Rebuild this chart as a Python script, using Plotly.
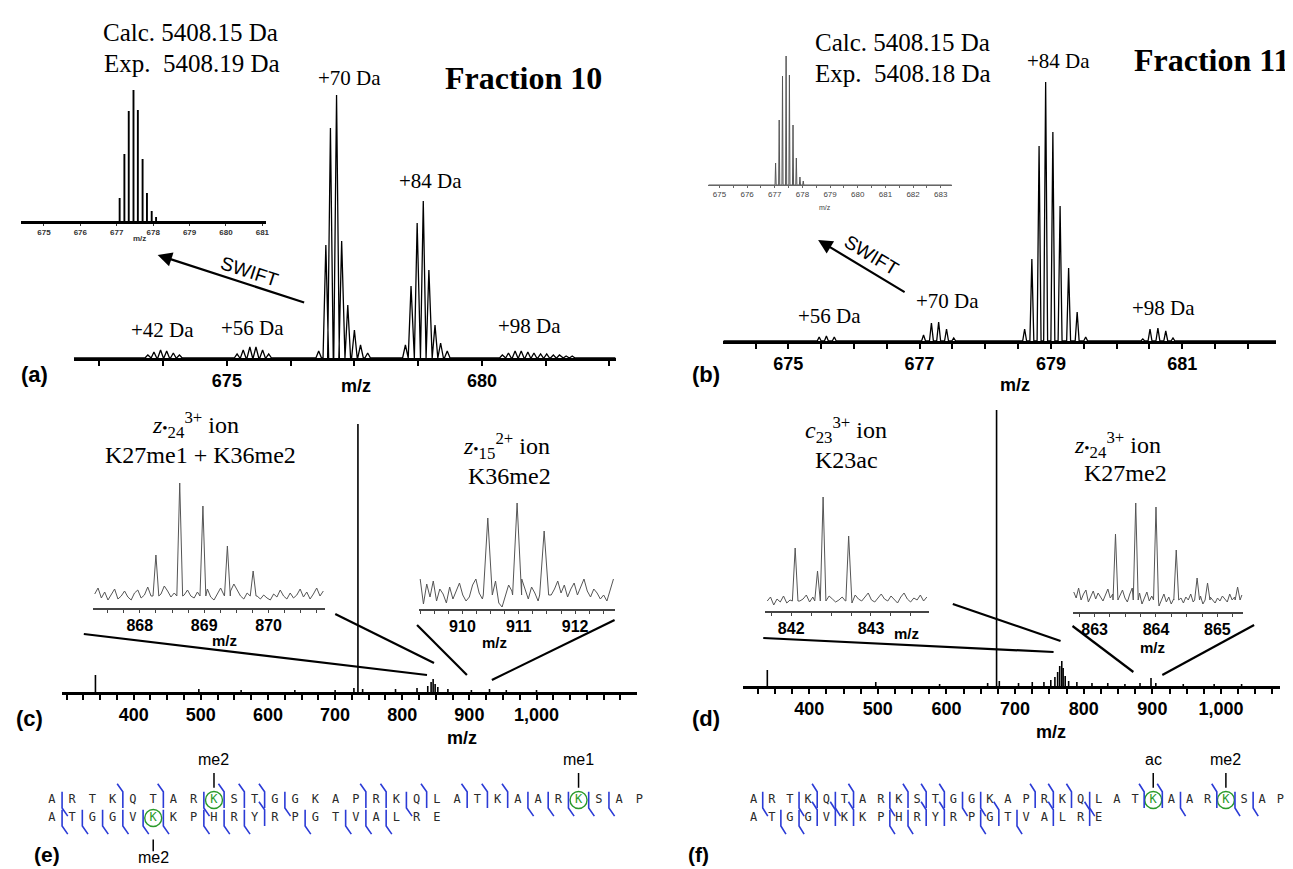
import numpy as np
import plotly.graph_objects as go

W, H = 1293, 869
SERIF = "Liberation Serif, Times New Roman, serif"
SANS = "Liberation Sans, Arial, sans-serif"

# ======================= DATA =======================
# (a) Fraction 10 - isolated region, peaks (m/z, relative intensity)
a42_mz = [673.45, 673.57, 673.70, 673.82, 673.95, 674.07]
a42_int = [3, 6, 8, 7, 5, 3]
a56_mz = [675.20, 675.32, 675.45, 675.57, 675.70, 675.82]
a56_int = [4, 8, 11, 11, 8, 4]
a70_mz = [676.80, 676.94, 677.03, 677.15, 677.25, 677.37, 677.50, 677.62, 677.76]
a70_int = [7, 113, 230, 263, 117, 53, 28, 13, 5]
a84_mz = [678.50, 678.61, 678.73, 678.85, 678.96, 679.08, 679.19, 679.32]
a84_int = [13, 72, 135, 157, 88, 33, 15, 7]
a98_mz = [680.40, 680.52, 680.65, 680.77, 680.90, 681.02, 681.15, 681.27, 681.40, 681.52, 681.65, 681.77]
a98_int = [3, 5, 7, 7, 6, 5, 4, 4, 3, 3, 2, 2]
# (a) inset after SWIFT
ai_mz = [677.08, 677.21, 677.33, 677.46, 677.58, 677.71, 677.83, 677.96, 678.08]
ai_int = [23, 67, 110, 131, 111, 62, 28, 10, 4]

# (b) Fraction 11
b56_mz = [675.47, 675.58, 675.70]
b56_int = [4, 5, 4]
b70_mz = [677.06, 677.18, 677.29, 677.41, 677.52]
b70_int = [6, 18, 19, 12, 3]
b84_mz = [678.60, 678.71, 678.82, 678.92, 679.03, 679.14, 679.27, 679.40, 679.53]
b84_int = [12, 82, 195, 259, 209, 135, 73, 29, 4]
b98_mz = [680.40, 680.51, 680.63, 680.75, 680.86]
b98_int = [2, 12, 13, 10, 3]
bi_mz = [677.03, 677.16, 677.28, 677.41, 677.53, 677.66, 677.78, 677.91, 678.03]
bi_int = [22, 65, 109, 129, 110, 60, 27, 8, 4]

# (c) ETD spectrum, Fraction 10
c_mz = [343, 497, 560, 640, 700, 728, 734, 741, 790, 822, 838, 843, 846, 849, 853, 868, 903, 930, 955, 1000]
c_int = [17, 3, 2, 2, 2, 4, 268, 3, 3, 4, 6, 10, 13, 8, 5, 3, 2, 3, 2, 2]
# (d) ETD spectrum, Fraction 11
d_mz = [339, 497, 590, 660, 673, 677, 705, 725, 742, 752, 758, 762, 765, 768, 770, 773, 778,
        790, 812, 835, 860, 882, 898, 905, 945, 990, 1030]
d_int = [16, 4, 2, 3, 276, 5, 3, 4, 4, 6, 9, 14, 20, 25, 18, 10, 5,
         4, 3, 3, 2, 3, 8, 3, 2, 2, 2]

# zoomed fragment-ion insets (peaks + baseline noise)
c1_mz = [868.25, 868.62, 868.98, 869.36, 869.76]
c1_int = [53, 125, 102, 62, 37]
c1_noise = [14, 20, 10, 16, 8, 13, 19, 9, 12, 17, 11, 8, 15, 18, 10, 13, 21, 12, 16, 9,
            14, 22, 17, 11, 15, 24, 19, 13, 18, 12, 10, 16, 22, 14, 19, 11, 8, 14, 20, 13,
            10, 17, 24, 18, 12, 9, 15, 11, 7, 12, 9, 13, 10, 8, 14, 11, 18, 12, 9, 15,
            10, 13, 19, 11, 16, 9, 14, 20, 12, 17]
c2_mz = [910.45, 910.97, 911.45]
c2_int = [91, 106, 78]
c2_noise = [30, 5, 25, 12, 28, 8, 20, 15, 6, 22, 10, 18, 26, 14, 8, 12, 24, 30, 16, 10,
            4, 14, 20, 28, 6, 2, 12, 24, 18, 26, 14, 30, 20, 10, 22, 16, 8, 12, 18, 25,
            14, 20, 28, 16, 24, 12, 20, 26, 14, 22, 30, 18, 12, 20, 16, 10, 14, 8, 18, 30]
d1_mz = [842.05, 842.33, 842.40, 842.72]
d1_int = [63, 40, 114, 75]
d1_noise = [10, 14, 6, 12, 9, 15, 8, 11, 13, 7, 10, 12, 16, 9, 14, 11, 8, 13, 10, 15,
            12, 9, 11, 14, 10, 13, 8, 16, 12, 10, 14, 18, 11, 9, 13, 17, 12, 10, 15, 11,
            8, 14, 18, 12, 9, 13, 11, 16, 10, 14]
d2_mz = [863.34, 863.67, 864.00, 864.33, 864.67, 864.84, 865.33]
d2_int = [78, 109, 105, 62, 34, 29, 25]
d2_noise = [20, 14, 24, 12, 18, 22, 10, 16, 21, 13, 19, 15, 11, 17, 23, 14, 18, 12, 20, 16,
            22, 14, 10, 18, 24, 15, 12, 19, 8, 14, 20, 11, 16, 9, 13, 6, 12, 18, 10, 15,
            8, 13, 17, 11, 14, 9, 15, 12, 18, 10, 14, 11, 16, 8, 13, 10, 15, 12, 9, 14,
            11, 16, 13, 10, 18, 12, 15, 20, 13, 17]

# (e)/(f) histone H3 1-50 sequence maps
sequence = "ARTKQTARKSTGGKAPRKQLATKAARKSAPATGGVKKPHRYRPGTVALRE"
e_mod_pos = [8, 26, 35]
e_mod_lbl = ["me2", "me1", "me2"]
f_mod_pos = [22, 26]
f_mod_lbl = ["ac", "me2"]
e_cut_pos = [0, 3, 5, 7, 8, 9, 10, 11, 15, 16, 17, 18, 20, 21, 22, 23, 24, 25, 26, 27,
             30, 31, 32, 33, 34, 35, 37, 38, 39, 40, 42, 44, 45, 46]
e_cut_typ = ["b", "t", "t", "b", "t", "t", "t", "b", "t", "t", "b", "t", "t", "t", "t", "b", "b", "b", "b", "b",
             "b", "b", "b", "b", "b", "b", "b", "b", "b", "t", "b", "b", "b", "b"]
f_cut_pos = [0, 2, 3, 4, 5, 7, 8, 9, 10, 11, 12, 15, 16, 17, 18, 21, 22, 23, 25, 26, 27,
             31, 32, 33, 34, 35, 37, 38, 39, 40, 42, 43, 44, 46, 48]
f_cut_typ = ["b", "b", "t", "b", "t", "b", "t", "t", "t", "b", "b", "t", "t", "t", "b", "t", "t", "b", "t", "b", "b",
             "b", "b", "t", "t", "t", "b", "b", "t", "t", "b", "t", "b", "t", "t"]

# ======================= LAYOUT GEOMETRY (pixels) =======================
AX = {
    "a":  dict(n=1, px=(66, 609), py=(350, 80), xr=[672.0, 682.62], yr=[0, 270]),
    "ai": dict(n=2, px=(13, 259), py=(213, 78), xr=[674.37, 681.11], yr=[0, 135]),
    "b":  dict(n=3, px=(717, 1271), py=(333, 70), xr=[674.01, 682.43], yr=[0, 263]),
    "bi": dict(n=4, px=(702, 946), py=(177, 42), xr=[674.60, 683.40], yr=[0, 135]),
    "c":  dict(n=5, px=(54, 630), py=(684, 409), xr=[293, 1149], yr=[0, 275]),
    "d":  dict(n=6, px=(737, 1275), py=(678, 398), xr=[304, 1086], yr=[0, 280]),
    "c1": dict(n=7, px=(85, 318), py=(600, 470), xr=[867.27, 870.88], yr=[0, 130]),
    "c2": dict(n=8, px=(412, 608), py=(601, 471), xr=[909.23, 912.70], yr=[0, 130]),
    "d1": dict(n=9, px=(759, 923), py=(603, 473), xr=[841.675, 843.725], yr=[0, 130]),
    "d2": dict(n=10, px=(1067, 1238), py=(604, 474), xr=[862.64, 865.42], yr=[0, 130]),
    "e":  dict(n=11, px=(0, 660), py=(869, 730), xr=[-2.17, 30.34], yr=[-4.28, 3.44]),
    "f":  dict(n=12, px=(680, 1293), py=(869, 730), xr=[-3.70, 29.97], yr=[-4.28, 3.44]),
}


def ref(key):
    n = AX[key]["n"]
    return ("x" if n == 1 else f"x{n}"), ("y" if n == 1 else f"y{n}")


def grid_ticks(start, stop, step):
    return [float(v) for v in np.round(np.arange(start, stop + step / 2, step), 4)]


def profile(centers, heights, hw, x0, x1):
    xs, ys = [x0], [0]
    for c, h in sorted(zip(centers, heights)):
        xs += [c - hw, c, c + hw]
        ys += [0, h, 0]
    xs.append(x1)
    ys.append(0)
    return xs, ys


def sticks(centers, heights):
    xs, ys = [], []
    for c, h in zip(centers, heights):
        xs += [c, c, None]
        ys += [0, h, None]
    return xs, ys


def noisy_profile(x0, x1, noise, centers, heights, hw, base):
    grid = np.linspace(x0, x1, len(noise))
    pts = [(float(x), y) for x, y in zip(grid, noise) if min(abs(x - c) for c in centers) > hw]
    for c, h in zip(centers, heights):
        pts += [(c - hw, base), (c, h), (c + hw, base)]
    pts.sort()
    return [p[0] for p in pts], [p[1] for p in pts]


fig = go.Figure()


def add_line(key, xs, ys, color="black", width=1.2):
    xr, yr = ref(key)
    fig.add_trace(go.Scatter(x=xs, y=ys, xaxis=xr, yaxis=yr, mode="lines",
                             line=dict(color=color, width=width), hoverinfo="skip"))


# ---- spectra ----
a_all_mz = a42_mz + a56_mz + a70_mz + a84_mz + a98_mz
a_all_int = a42_int + a56_int + a70_int + a84_int + a98_int
add_line("a", *profile(a_all_mz, a_all_int, 0.055, 672.0, 682.62), width=1.3)
add_line("ai", *sticks(ai_mz, ai_int), width=1.9)

b_all_mz = b56_mz + b70_mz + b84_mz + b98_mz
b_all_int = b56_int + b70_int + b84_int + b98_int
add_line("b", *profile(b_all_mz, b_all_int, 0.03, 674.01, 682.43), width=1.3)
add_line("bi", *profile(bi_mz, bi_int, 0.02, 674.6, 683.4), color="#555555", width=1)

add_line("c", *sticks(c_mz, c_int), width=1.6)
add_line("d", *sticks(d_mz, d_int), width=1.6)

add_line("c1", *noisy_profile(867.30, 870.85, c1_noise, c1_mz, c1_int, 0.045, 12), color="#555555", width=1)
add_line("c2", *noisy_profile(909.25, 912.68, c2_noise, c2_mz, c2_int, 0.08, 14), color="#555555", width=1)
add_line("d1", *noisy_profile(841.70, 843.70, d1_noise, d1_mz, d1_int, 0.035, 10), color="#555555", width=1)
add_line("d2", *noisy_profile(862.66, 865.40, d2_noise, d2_mz, d2_int, 0.04, 12), color="#555555", width=1)


# ---- sequence maps ----
def seq_panel(key, mod_pos, mod_lbl, cut_pos, cut_typ):
    xr, yr = ref(key)
    cols = [i % 30 for i in range(len(sequence))]
    rows = [0 if i < 30 else -1 for i in range(len(sequence))]
    colors = ["#2a9a2a" if i in mod_pos else "#2a2a2a" for i in range(len(sequence))]
    fig.add_trace(go.Scatter(x=cols, y=rows, xaxis=xr, yaxis=yr, mode="text", text=list(sequence),
                             textfont=dict(family="DejaVu Sans Mono", size=12, color=colors),
                             cliponaxis=False, hoverinfo="skip"))
    fig.add_trace(go.Scatter(x=[cols[p] for p in mod_pos], y=[rows[p] for p in mod_pos],
                             xaxis=xr, yaxis=yr, mode="markers", cliponaxis=False,
                             marker=dict(symbol="circle-open", size=17, color="#2a9a2a",
                                         line=dict(width=1.4, color="#2a9a2a")),
                             hoverinfo="skip"))
    xs, ys = [], []
    for g, t in zip(cut_pos, cut_typ):
        cx = g % 30 + 0.5
        r = 0 if g < 30 else -1
        top, bot = r + 0.45, r - 0.45
        if t == "b":
            xs += [cx, cx, cx + 0.28, None]
            ys += [top, bot, bot - 0.45, None]
        else:
            xs += [cx - 0.28, cx, cx, None]
            ys += [top + 0.45, top, bot, None]
    fig.add_trace(go.Scatter(x=xs, y=ys, xaxis=xr, yaxis=yr, mode="lines", cliponaxis=False,
                             line=dict(color="#2b3bd6", width=1.6), hoverinfo="skip"))
    for p, lbl in zip(mod_pos, mod_lbl):
        c, r = cols[p], rows[p]
        if r == 0:
            y0, y1, yt = 0.67, 1.5, 2.25
        else:
            y0, y1, yt = r - 1.2, r - 1.85, r - 2.2
        fig.add_shape(type="line", xref=xr, yref=yr, x0=c, x1=c, y0=y0, y1=y1,
                      line=dict(color="black", width=1.5))
        fig.add_annotation(x=c, y=yt, xref=xr, yref=yr, text=lbl, showarrow=False,
                           yanchor="middle", font=dict(family=SANS, size=16, color="black"))


seq_panel("e", e_mod_pos, e_mod_lbl, e_cut_pos, e_cut_typ)
seq_panel("f", f_mod_pos, f_mod_lbl, f_cut_pos, f_cut_typ)

# ---- axes ----
# (major labelled ticks, minor tick grid)
tick_spec = {
    "a": ([675, 680], grid_ticks(672.5, 682.5, 1.25)),
    "ai": ([675, 676, 677, 678, 679, 680, 681], grid_ticks(675, 681, 0.5)),
    "b": ([675, 677, 679, 681], grid_ticks(674.5, 682.0, 0.5)),
    "bi": ([675, 676, 677, 678, 679, 680, 681, 682, 683], grid_ticks(675, 683, 0.5)),
    "c": ([400, 500, 600, 700, 800, 900, 1000], grid_ticks(300, 1125, 25)),
    "d": ([400, 500, 600, 700, 800, 900, 1000], grid_ticks(325, 1075, 25)),
    "c1": ([868, 869, 870], grid_ticks(867.5, 870.75, 0.25)),
    "c2": ([910, 911, 912], grid_ticks(909.25, 912.5, 0.25)),
    "d1": ([842, 843], grid_ticks(841.75, 843.5, 0.25)),
    "d2": ([863, 864, 865], grid_ticks(862.75, 865.25, 0.25)),
}
layout_axes = {}
for key, s in AX.items():
    n = s["n"]
    xname = "xaxis" if n == 1 else f"xaxis{n}"
    yname = "yaxis" if n == 1 else f"yaxis{n}"
    xd = [s["px"][0] / W, s["px"][1] / W]
    yd = [1 - s["py"][0] / H, 1 - s["py"][1] / H]
    xa = dict(domain=xd, range=s["xr"], anchor="y" if n == 1 else f"y{n}", showgrid=False,
              zeroline=False, fixedrange=True)
    ya = dict(domain=yd, range=s["yr"], anchor="x" if n == 1 else f"x{n}", visible=False,
              showgrid=False, zeroline=False, fixedrange=True)
    if key in ("e", "f"):
        xa["visible"] = False
    else:
        major, minor = tick_spec[key]
        minor = [v for v in minor if all(abs(v - m) > 1e-6 for m in major)]
        xa.update(tickmode="array", tickvals=major, ticktext=[f"{v:,.0f}" for v in major],
                  showline=True, ticks="outside")
        if key in ("a", "b", "c", "d"):
            xa.update(linecolor="black", linewidth=2.6, ticklen=5, tickwidth=1.5, tickcolor="black",
                      tickfont=dict(family=SANS, size=18, color="black", weight="bold"),
                      ticklabelstandoff=0,
                      minor=dict(tickmode="array", tickvals=minor, ticks="outside", ticklen=5,
                                 tickwidth=1.5, tickcolor="black"))
        elif key == "ai":
            xa.update(linecolor="black", linewidth=3, ticklen=2, tickwidth=1, tickcolor="#333",
                      tickfont=dict(family=SANS, size=8, color="#333", weight="bold"),
                      ticklabelstandoff=-1)
        elif key == "bi":
            xa.update(linecolor="#666", linewidth=1, ticklen=2, tickwidth=1, tickcolor="#666",
                      tickfont=dict(family=SANS, size=8, color="#444"), ticklabelstandoff=-1,
                      minor=dict(tickmode="array", tickvals=minor, ticks="outside", ticklen=2,
                                 tickwidth=1, tickcolor="#666"))
        else:
            xa.update(linecolor="#444", linewidth=1.5, ticklen=3, tickwidth=1, tickcolor="#444",
                      tickfont=dict(family=SANS, size=16, color="black", weight="bold"),
                      ticklabelstandoff=-1,
                      minor=dict(tickmode="array", tickvals=minor, ticks="outside", ticklen=3,
                                 tickwidth=1, tickcolor="#444"))
    layout_axes[xname] = xa
    layout_axes[yname] = ya

fig.update_layout(**layout_axes)


# ---- text annotations (positions in pixels) ----
def P(x, y):
    return x / W, 1 - y / H


def txt(x, y, s, size, family=SERIF, bold=False, color="black", angle=0):
    px, py = P(x, y)
    fig.add_annotation(x=px, y=py, xref="paper", yref="paper", text=s, showarrow=False,
                       font=dict(family=family, size=size, color=color,
                                 weight="bold" if bold else "normal"),
                       textangle=angle, xanchor="center", yanchor="middle")


# panel (a)
txt(183, 25, "Calc. 5408.15 Da", 25)
txt(184, 55, "Exp.&nbsp; 5408.19 Da", 25)
txt(342, 70, "+70 Da", 21)
txt(517, 70, "Fraction 10", 32, bold=True)
txt(423, 173, "+84 Da", 21)
txt(155, 322, "+42 Da", 21)
txt(245, 320, "+56 Da", 21)
txt(523, 318, "+98 Da", 21)
txt(242, 263, "SWIFT", 19, family=SANS, angle=18)
txt(132, 231, "m/z", 8, family=SANS, bold=True, color="#333")
txt(349, 378, "m/z", 18, family=SANS, bold=True)
txt(27, 366, "(a)", 22, family=SANS, bold=True)
# panel (b)
txt(897, 35, "Calc. 5408.15 Da", 25)
txt(897, 65, "Exp.&nbsp; 5408.18 Da", 25)
txt(1053, 53, "+84 Da", 21)
txt(1207, 52, "Fraction 11", 32, bold=True)
txt(823, 308, "+56 Da", 21)
txt(942, 293, "+70 Da", 21)
txt(1158, 300, "+98 Da", 21)
txt(866, 247, "SWIFT", 19, family=SANS, angle=31)
txt(819, 199, "m/z", 7, family=SANS, color="#444")
txt(1009, 377, "m/z", 18, family=SANS, bold=True)
txt(700, 366, "(b)", 22, family=SANS, bold=True)
# panel (c)
dot = "<span style='font-size:15px'>•</span>"
txt(188, 417, "<i>z</i>" + dot + "<sub>24</sub><sup>3+</sup> ion", 24)
txt(193, 447, "K27me1 + K36me2", 24)
txt(500, 438, "<i>z</i>" + dot + "<sub>15</sub><sup>2+</sup> ion", 24)
txt(503, 468, "K36me2", 24)
txt(217, 632, "m/z", 15, family=SANS, bold=True)
txt(488, 634, "m/z", 15, family=SANS, bold=True)
txt(455, 730, "m/z", 18, family=SANS, bold=True)
txt(22, 710, "(c)", 22, family=SANS, bold=True)
# panel (d)
txt(840, 422, "<i>c</i><sub>23</sub><sup>3+</sup> ion", 24)
txt(840, 452, "K23ac", 24)
txt(1112, 437, "<i>z</i>" + dot + "<sub>24</sub><sup>3+</sup> ion", 24)
txt(1120, 465, "K27me2", 24)
txt(901, 625, "m/z", 15, family=SANS, bold=True)
txt(1147, 639, "m/z", 15, family=SANS, bold=True)
txt(1045, 724, "m/z", 18, family=SANS, bold=True)
txt(700, 710, "(d)", 22, family=SANS, bold=True)
# panels (e), (f)
txt(39, 846, "(e)", 21, family=SANS, bold=True)
txt(692, 846, "(f)", 21, family=SANS, bold=True)


# ---- SWIFT arrows ----
def arrow(hx, hy, tx, ty):
    px, py = P(hx, hy)
    fig.add_annotation(x=px, y=py, xref="paper", yref="paper", text="", showarrow=True,
                       ax=tx - hx, ay=ty - hy, arrowhead=2, arrowsize=1.3, arrowwidth=2.2,
                       arrowcolor="black")


arrow(150, 247, 298, 295)
arrow(812, 232, 900, 285)


# ---- zoom callout lines ----
def seg(x0, y0, x1, y1):
    a0, b0 = P(x0, y0)
    a1, b1 = P(x1, y1)
    fig.add_shape(type="line", xref="paper", yref="paper", x0=a0, y0=b0, x1=a1, y1=b1,
                  line=dict(color="black", width=2.2))


seg(76, 626, 420, 667)
seg(328, 606, 427, 655)
seg(410, 617, 460, 667)
seg(608, 612, 485, 672)
seg(757, 630, 1048, 644)
seg(947, 596, 1055, 633)
seg(1067, 618, 1128, 664)
seg(1249, 617, 1157, 667)

fig.update_layout(width=W, height=H, margin=dict(l=0, r=0, t=0, b=0),
                  paper_bgcolor="white", plot_bgcolor="rgba(0,0,0,0)", showlegend=False)

fig.write_html("out.html")
